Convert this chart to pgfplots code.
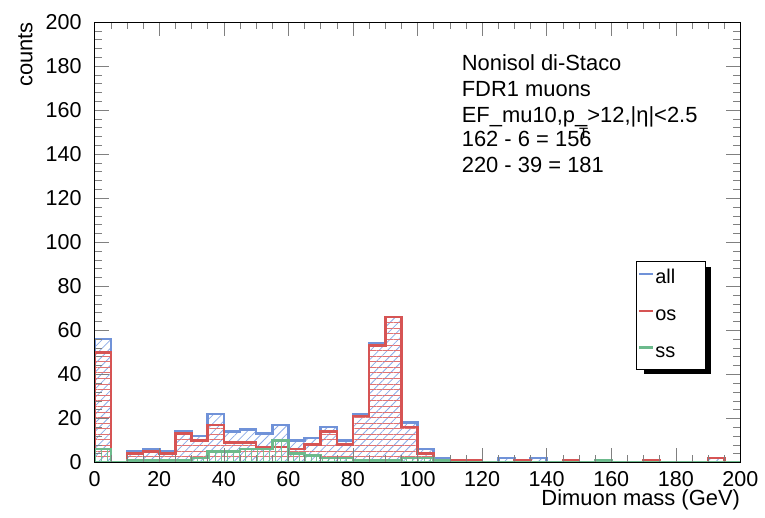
\documentclass[border=0pt]{standalone}
\usepackage{pgfplots}
\pgfplotsset{compat=1.18}
\usepackage{pgfplotstable}
\usetikzlibrary{patterns.meta}
\usepackage{fontspec}
\setmainfont{Liberation Sans}
\definecolor{allc}{RGB}{112,146,216}
\definecolor{osc}{RGB}{214,84,84}
\definecolor{ssc}{RGB}{108,186,140}
\definecolor{allh}{RGB}{140,170,230}
\definecolor{osh}{RGB}{225,115,115}
\definecolor{ssh}{RGB}{120,195,150}
\pgfplotstableread{
low all os ss
0 56 50 6
5 0 0 0
10 5 4 1
15 6 5 1
20 5 4 1
25 14 13 1
30 12 10 2
35 22 17 5
40 14 9 5
45 15 9 6
50 13 7 6
55 17 7 10
60 10 6 4
65 11 8 3
70 16 14 2
75 10 8 2
80 22 21 1
85 54 53 1
90 66 66 1
95 18 16 2
100 6 4 2
105 2 1 1
110 1 1 0
115 1 1 0
120 0 0 0
125 2 0 0
130 1 1 0
135 2 0 0
140 0 0 0
145 1 1 0
150 0 0 0
155 1 0 1
160 0 0 0
165 0 0 0
170 1 1 0
175 0 0 0
180 0 0 0
185 0 0 0
190 2 2 0
195 0 0 0
200 0 0 0
}\hist
\begin{document}
\begin{tikzpicture}
\begin{axis}[
  scale only axis, width=324pt, height=221pt,
  xmin=0, xmax=200, ymin=0, ymax=200,
  xtick={0,20,...,200}, ytick={0,20,...,200},
  minor x tick num=3, minor y tick num=4,
  tick align=inside, tick pos=both,
  xticklabel pos=lower, yticklabel pos=left,
  major tick length=7pt, minor tick length=3.5pt,
  axis on top,
  /pgf/number format/assume math mode=true,
  tick label style={font=\fontsize{10.8}{12}\selectfont},
  yticklabel style={xshift=-3pt},
  xticklabel style={yshift=-1pt},
  xlabel={Dimuon mass (GeV)}, ylabel={counts},
  every axis x label/.style={at={(rel axis cs:1,0)}, anchor=north east, yshift=-13.5pt, inner sep=0pt, font=\fontsize{11}{13}\selectfont},
  every axis y label/.style={at={(rel axis cs:0,1)}, xshift=-31pt, rotate=90, anchor=south east, inner sep=0pt, font=\fontsize{11}{13}\selectfont},
  legend image code/.code={\draw[#1] (0pt,2.3pt) -- (7pt,2.3pt);},
  legend cell align=left,
  legend style={at={(0.946,0.457)}, anchor=north east, draw=black, fill=white,
    font=\fontsize{10}{11}\selectfont, row sep=9.5pt, inner xsep=1pt, inner ysep=4pt, column sep=0.5pt,
    nodes={inner sep=0pt, text height=7pt, text depth=2pt}},
]
\addplot[const plot, draw=allc, line width=1.3pt, pattern={Lines[angle=45,distance=3pt,line width=0.4pt]}, pattern color=allh, forget plot] table[x=low,y=all] {\hist} \closedcycle;
\addplot[const plot, draw=osc, line width=1.3pt, pattern={Lines[angle=0,distance=2.8pt,line width=0.4pt]}, pattern color=osh, forget plot] table[x=low,y=os] {\hist} \closedcycle;
\addplot[const plot, draw=ssc, line width=1.3pt, pattern={Lines[angle=90,distance=3pt,line width=0.4pt]}, pattern color=ssh, forget plot] table[x=low,y=ss] {\hist} \closedcycle;
\addlegendimage{draw=allc, line width=1.2pt}
\addlegendentry{\makebox[24pt][l]{all}}
\addlegendimage{draw=osc, line width=1.2pt}
\addlegendentry{\makebox[24pt][l]{os}}
\addlegendimage{draw=ssc, line width=1.2pt}
\addlegendentry{\makebox[24pt][l]{ss}}
\fill[black] ([shift={(-31pt,-56.8pt)}]rel axis cs:0.946,0.457) rectangle ([shift={(2.8pt,-2.8pt)}]rel axis cs:0.946,0.457);
\node[anchor=base west, inner sep=0pt, font=\fontsize{11}{13}\selectfont] at (axis cs:113.6,178.1) {Nonisol di-Staco};
\node[anchor=base west, inner sep=0pt, font=\fontsize{11}{13}\selectfont] at (axis cs:113.6,166.3) {FDR1 muons};
\node[anchor=base west, inner sep=0pt, font=\fontsize{11}{13}\selectfont] at (axis cs:113.6,154.5) {EF\_mu10,p\rlap{\smash{\raisebox{-8pt}{\hspace{2pt}\fontsize{7.5}{8}\selectfont T}}}\_>12,|η|<2.5};
\node[anchor=base west, inner sep=0pt, font=\fontsize{11}{13}\selectfont] at (axis cs:113.6,143.4) {162 - 6 = 156};
\node[anchor=base west, inner sep=0pt, font=\fontsize{11}{13}\selectfont] at (axis cs:113.6,131.6) {220 - 39 = 181};
\coordinate (bl) at (rel axis cs:0,0);
\coordinate (tr) at (rel axis cs:1,1);
\end{axis}
\path ([shift={(-47.5pt,-27.9pt)}]bl) rectangle ([shift={(11pt,11pt)}]tr);
\end{tikzpicture}
\end{document}
